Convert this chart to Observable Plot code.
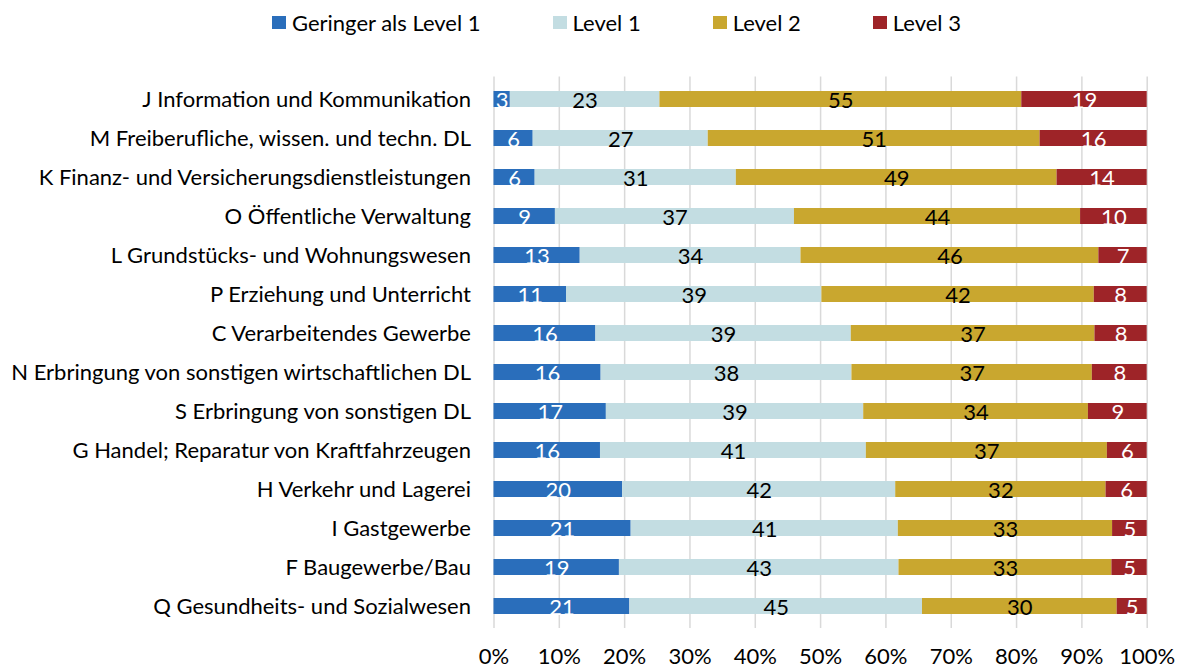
<!DOCTYPE html>
<html><head><meta charset="utf-8">
<script src="https://cdn.jsdelivr.net/npm/d3@7"></script>
<script src="https://cdn.jsdelivr.net/npm/@observablehq/plot@0.6"></script>
<style>
body{margin:0;background:#fff;font-family:Lato, sans-serif;}
#legend{height:45px;display:flex;align-items:center;padding-left:272px;gap:72px;font-size:22px;color:#000;}
.item{display:flex;align-items:center;gap:6px;}
.sw{width:14px;height:13px;display:inline-block;}
</style></head><body><div id="legend"></div><div id="chart"></div>
<script>
const categories = [
  "J Information und Kommunikation",
  "M Freiberufliche, wissen. und techn. DL",
  "K Finanz- und Versicherungsdienstleistungen",
  "O Öffentliche Verwaltung",
  "L Grundstücks- und Wohnungswesen",
  "P Erziehung und Unterricht",
  "C Verarbeitendes Gewerbe",
  "N Erbringung von sonstigen wirtschaftlichen DL",
  "S Erbringung von sonstigen DL",
  "G Handel; Reparatur von Kraftfahrzeugen",
  "H Verkehr und Lagerei",
  "I Gastgewerbe",
  "F Baugewerbe/Bau",
  "Q Gesundheits- und Sozialwesen"
];
const levels = ["Geringer als Level 1", "Level 1", "Level 2", "Level 3"];
const colors = ["#2A6EBB", "#C3DDE2", "#C9A72F", "#9E2428"];
const belowLevel1 = [2.5, 6.0, 6.3, 9.4, 13.2, 11.1, 15.6, 16.4, 17.2, 16.3, 19.7, 21.0, 19.2, 20.8];
const level1 = [22.9, 26.8, 30.8, 36.6, 33.8, 39.1, 39.1, 38.4, 39.4, 40.7, 41.8, 40.9, 42.8, 44.8];
const level2 = [55.4, 50.8, 49.1, 43.8, 45.6, 41.7, 37.3, 36.8, 34.4, 36.9, 32.2, 32.8, 32.6, 29.8];
const level3 = [19.2, 16.4, 13.8, 10.2, 7.4, 8.1, 8.0, 8.4, 9.0, 6.1, 6.3, 5.3, 5.4, 4.6];
const tickValues = [0, 10, 20, 30, 40, 50, 60, 70, 80, 90, 100];

const series = [belowLevel1, level1, level2, level3];
const data = categories.flatMap((c, i) => levels.map((l, j) => ({category: c, level: l, value: series[j][i]})));
const darkLevels = new Set([levels[0], levels[3]]);

const legend = document.getElementById("legend");
levels.forEach((l, j) => {
  const item = document.createElement("div");
  item.className = "item";
  const sw = document.createElement("span");
  sw.className = "sw";
  sw.style.background = colors[j];
  const t = document.createElement("span");
  t.textContent = l;
  item.appendChild(sw); item.appendChild(t);
  legend.appendChild(item);
});

const fs = 22;
const chart = Plot.plot({
  width: 1180,
  height: 623,
  marginLeft: 493.5,
  marginRight: 33.3,
  marginTop: 31.4,
  marginBottom: 40,
  style: {fontFamily: "Lato, sans-serif", fontSize: fs + "px", color: "#000", background: "#fff", overflow: "visible"},
  x: {domain: [0, 100], ticks: tickValues, tickFormat: d => d + "%", tickSize: 0, tickPadding: 20, label: null},
  y: {domain: categories, paddingInner: 0.6, paddingOuter: 0.3, tickSize: 0, tickPadding: 23, label: null},
  color: {domain: levels, range: colors},
  marks: [
    Plot.ruleX(tickValues, {stroke: "#D9D9D9", strokeWidth: 1.5}),
    Plot.barX(data, {x: "value", y: "category", fill: "level"}),
    Plot.textX(data, Plot.stackX({x: "value", y: "category", z: "level",
      text: d => darkLevels.has(d.level) ? String(Math.round(d.value)) : "",
      fill: "white", fontSize: fs, dy: 1})),
    Plot.textX(data, Plot.stackX({x: "value", y: "category", z: "level",
      text: d => darkLevels.has(d.level) ? "" : String(Math.round(d.value)),
      fill: "black", fontSize: fs, dy: 1}))
  ]
});
document.getElementById("chart").appendChild(chart);
</script>
</body></html>
